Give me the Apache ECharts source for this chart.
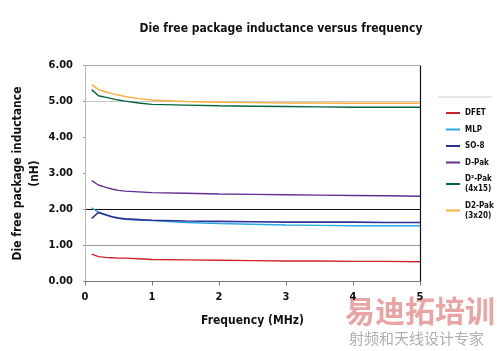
<!DOCTYPE html>
<html>
<head>
<meta charset="utf-8">
<script src="https://cdn.jsdelivr.net/npm/echarts@6/dist/echarts.min.js"></script>
<style>
  html, body { margin: 0; padding: 0; background: #fff; }
  #main { width: 500px; height: 351px; }
</style>
</head>
<body>
<div id="main"></div>
<script>
// frequency in MHz
var freq = [0.1, 0.2, 0.3, 0.4, 0.5, 0.6, 0.8, 1, 1.5, 2, 2.5, 3, 3.5, 4, 4.5, 5];

var dfet  = [0.76, 0.69, 0.67, 0.66, 0.65, 0.65, 0.63, 0.61, 0.60, 0.59, 0.58, 0.57, 0.57, 0.56, 0.56, 0.55];
var mlp   = [2.05, 1.92, 1.85, 1.80, 1.76, 1.73, 1.71, 1.69, 1.64, 1.61, 1.59, 1.57, 1.56, 1.55, 1.55, 1.55];
var so8   = [1.75, 1.92, 1.86, 1.80, 1.76, 1.74, 1.72, 1.70, 1.68, 1.67, 1.66, 1.65, 1.65, 1.65, 1.64, 1.64];
var dpak  = [2.80, 2.68, 2.62, 2.57, 2.53, 2.51, 2.49, 2.47, 2.45, 2.43, 2.42, 2.41, 2.40, 2.39, 2.38, 2.37];
var d2pak415 = [5.33, 5.16, 5.12, 5.08, 5.04, 5.01, 4.96, 4.92, 4.90, 4.88, 4.87, 4.86, 4.85, 4.84, 4.84, 4.84];
var d2pak320 = [5.47, 5.33, 5.27, 5.22, 5.18, 5.14, 5.08, 5.04, 5.00, 4.98, 4.97, 4.96, 4.96, 4.95, 4.95, 4.95];

var names = ['DFET', 'MLP', 'SO-8', 'D-Pak', 'D²-Pak\n(4x15)', 'D2-Pak\n(3x20)'];
var colors = ['#cc2229', '#29abe2', '#2e3192', '#662d91', '#006838', '#fbb040'];
var values = [dfet, mlp, so8, dpak, d2pak415, d2pak320];

var font = "'DejaVu Sans Condensed', 'Liberation Sans', sans-serif";

var chartDom = document.getElementById('main');
var myChart = echarts.init(chartDom);

var series = [];
values.forEach(function (vals, i) {
    series.push({
        name: names[i],
        type: 'line',
        data: freq.map(function (f, j) { return [f, vals[j]]; }),
        showSymbol: false,
        lineStyle: { width: i == 2 ? 1.6 : 1.4, color: colors[i] },
        itemStyle: { color: colors[i] }
    });
});

var option = {
    animation: false,
    textStyle: { fontFamily: font },
    title: {
        text: 'Die free package inductance versus frequency',
        left: 276,
        top: 18,
        textAlign: 'center',
        textStyle: { fontSize: 12, fontWeight: 'bold', color: '#111', fontFamily: font }
    },
    grid: { left: 85, right: 80, top: 65.5, bottom: 69.5, containLabel: false, outerBoundsMode: 'none' },
    legend: {
        orient: 'vertical',
        left: 441,
        top: 103,
        itemWidth: 14,
        itemHeight: 2,
        itemGap: 6.5,
        icon: 'rect',
        data: names,
        textStyle: { fontSize: 8, fontWeight: 'bold', color: '#111', fontFamily: font, lineHeight: 10 }
    },
    xAxis: {
        type: 'value',
        min: 0,
        max: 5,
        interval: 1,
        name: 'Frequency (MHz)',
        nameLocation: 'middle',
        nameGap: 33,
        nameMoveOverlap: false,
        nameTextStyle: { fontSize: 12, fontWeight: 'bold', color: '#111', fontFamily: font },
        axisLine: { lineStyle: { color: '#777', width: 1 } },
        axisTick: { show: true, length: 4, lineStyle: { color: '#777' } },
        axisLabel: { fontSize: 11, fontWeight: 'bold', color: '#111', margin: 10, fontFamily: font },
        splitLine: {
            show: true,
            lineStyle: { color: ['rgba(0,0,0,0)', 'rgba(0,0,0,0)', 'rgba(0,0,0,0)', 'rgba(0,0,0,0)', 'rgba(0,0,0,0)', '#111'], width: 1.2 }
        }
    },
    yAxis: {
        type: 'value',
        min: 0,
        max: 6,
        interval: 1,
        name: 'Die free package inductance\n(nH)',
        nameLocation: 'middle',
        nameGap: 42,
        nameMoveOverlap: false,
        nameTextStyle: { fontSize: 12, fontWeight: 'bold', color: '#111', fontFamily: font, lineHeight: 17 },
        axisLine: { show: true, lineStyle: { color: '#bbb' } },
        axisTick: { show: true, length: 2, lineStyle: { color: '#999' } },
        axisLabel: {
            fontSize: 11, fontWeight: 'bold', color: '#111', margin: 12, fontFamily: font,
            formatter: function (v) { return v.toFixed(2); }
        },
        splitLine: {
            show: true,
            lineStyle: { color: ['#777', '#999', '#111', 'rgba(0,0,0,0)', 'rgba(0,0,0,0)', '#c8c8c8', '#aaa'], width: 1 }
        }
    },
    graphic: [
        {
            type: 'line',
            shape: { x1: 438, y1: 97, x2: 492, y2: 97 },
            style: { stroke: '#ccc', lineWidth: 1 }
        },
        {
            type: 'text',
            left: 345,
            top: 296,
            style: { text: '易迪拓培训', fontSize: 30, fontWeight: 'bold', fill: 'rgba(215,90,90,0.55)', fontFamily: "'Noto Sans CJK SC', sans-serif" }
        },
        {
            type: 'text',
            left: 349,
            top: 331,
            style: { text: '射频和天线设计专家', fontSize: 15, fill: 'rgba(140,140,140,0.7)', fontFamily: "'Noto Sans CJK SC', sans-serif" }
        }
    ],
    series: series
};

option && myChart.setOption(option);
</script>
</body>
</html>
